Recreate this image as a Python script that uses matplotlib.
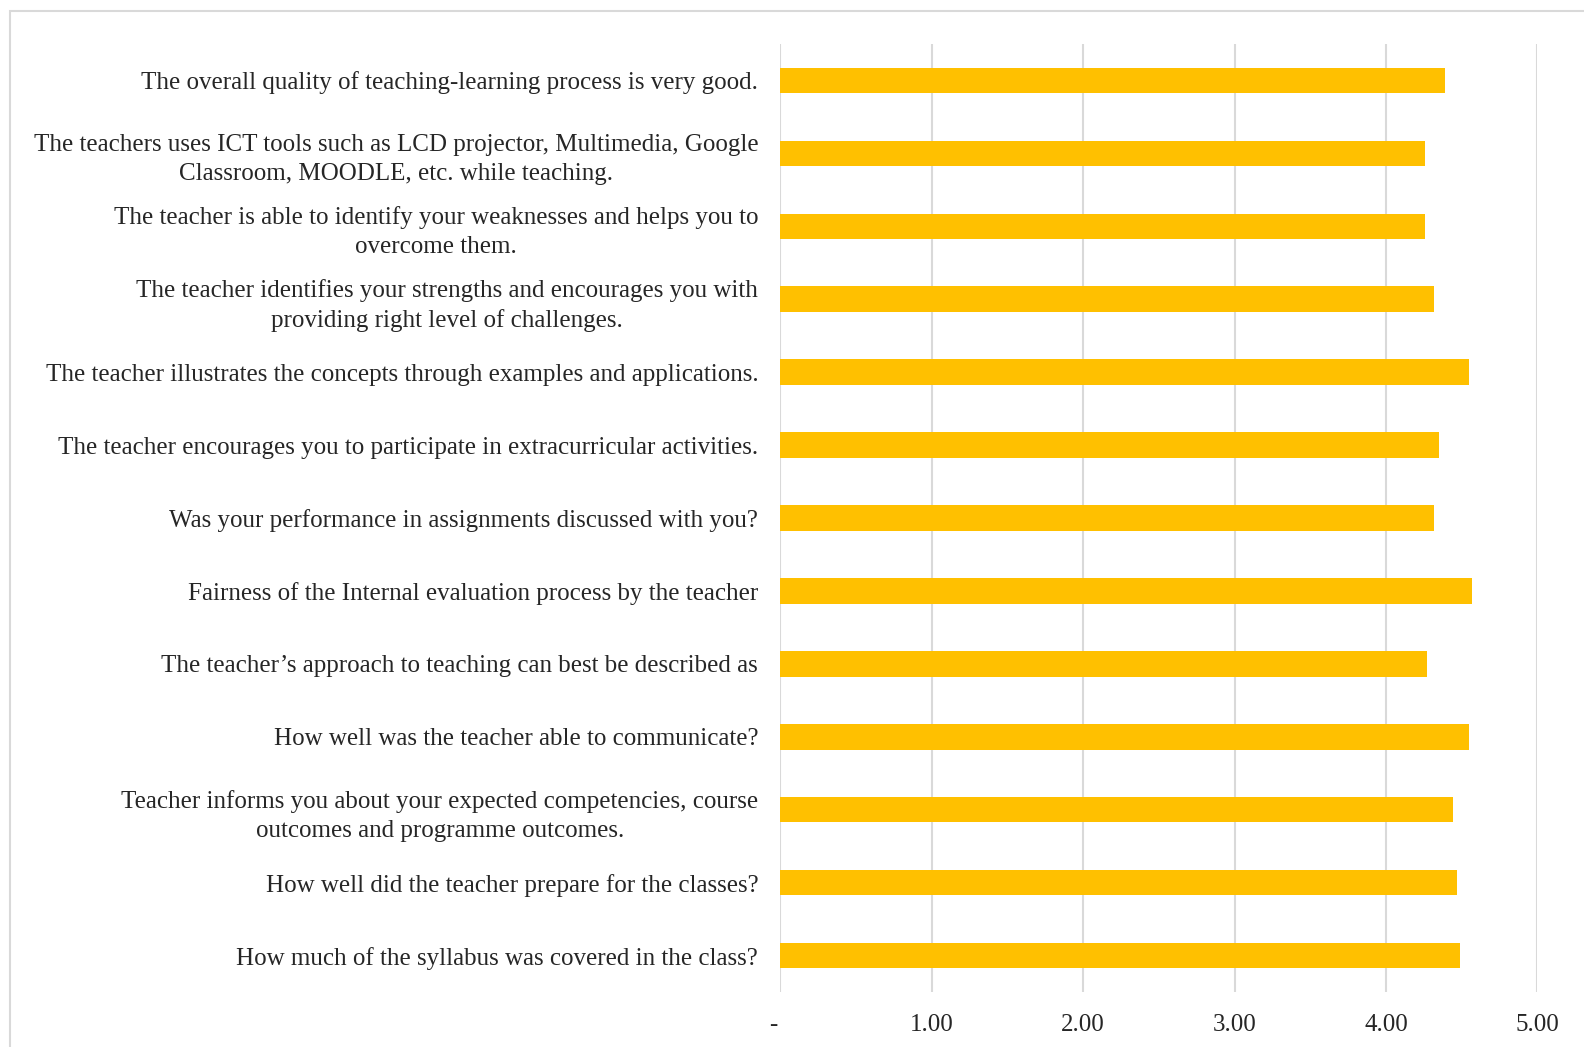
import matplotlib
matplotlib.use("Agg")
import matplotlib.pyplot as plt
from matplotlib.patches import Rectangle

# survey questions, top to bottom as shown
questions = [
    "The overall quality of teaching-learning process is very good.",
    "The teachers uses ICT tools such as LCD projector, Multimedia, Google\nClassroom, MOODLE, etc. while teaching.",
    "The teacher is able to identify your weaknesses and helps you to\novercome them.",
    "The teacher identifies your strengths and encourages you with\nproviding right level of challenges.",
    "The teacher illustrates the concepts through examples and applications.",
    "The teacher encourages you to participate in extracurricular activities.",
    "Was your performance in assignments discussed with you?",
    "Fairness of the Internal evaluation process by the teacher",
    "The teacher\u2019s approach to teaching can best be described as",
    "How well was the teacher able to communicate?",
    "Teacher informs you about your expected competencies, course\noutcomes and programme outcomes.",
    "How well did the teacher prepare for the classes?",
    "How much of the syllabus was covered in the class?",
]
scores = [4.39, 4.26, 4.26, 4.32, 4.55, 4.35, 4.32, 4.57, 4.27, 4.55, 4.44, 4.47, 4.49]
xticks = [0, 1, 2, 3, 4, 5]
# accounting style zero: dash sits a little left of the axis
xticklabels = ["-  ", "1.00", "2.00", "3.00", "4.00", "5.00"]

plt.rcParams["font.family"] = ["Liberation Serif", "DejaVu Serif"]

fig = plt.figure(figsize=(15.84, 10.47), dpi=100)
ax = fig.add_axes([0.4927, 0.0525, 0.4778, 0.9055])

pos = list(range(len(questions)))
ax.barh(pos, scores, height=0.35, color="#FFC000", zorder=3)
ax.set_ylim(len(questions) - 0.5, -0.5)
ax.set_xlim(0, 5)

ax.set_yticks(pos)
ax.set_yticklabels(questions, fontsize=18, color="#262626",
                   multialignment="center", linespacing=1.42)
ax.set_xticks(xticks)
ax.set_xticklabels(xticklabels, fontsize=18, color="#262626")
ax.tick_params(axis="y", length=0, pad=16)
ax.tick_params(axis="x", length=0, pad=16)

ax.grid(axis="x", color="#D9D9D9", linewidth=1.5, zorder=0)
for s in ax.spines.values():
    s.set_visible(False)

# light outer chart border (extends past the right and bottom edge)
fig.patches.append(Rectangle((10 / 1584, -0.05), 1.1, 1 - 11 / 1047 + 0.05,
                             transform=fig.transFigure, fill=False,
                             edgecolor="#D9D9D9", linewidth=1.5))

fig.savefig("out.png", dpi=100, facecolor="white")
